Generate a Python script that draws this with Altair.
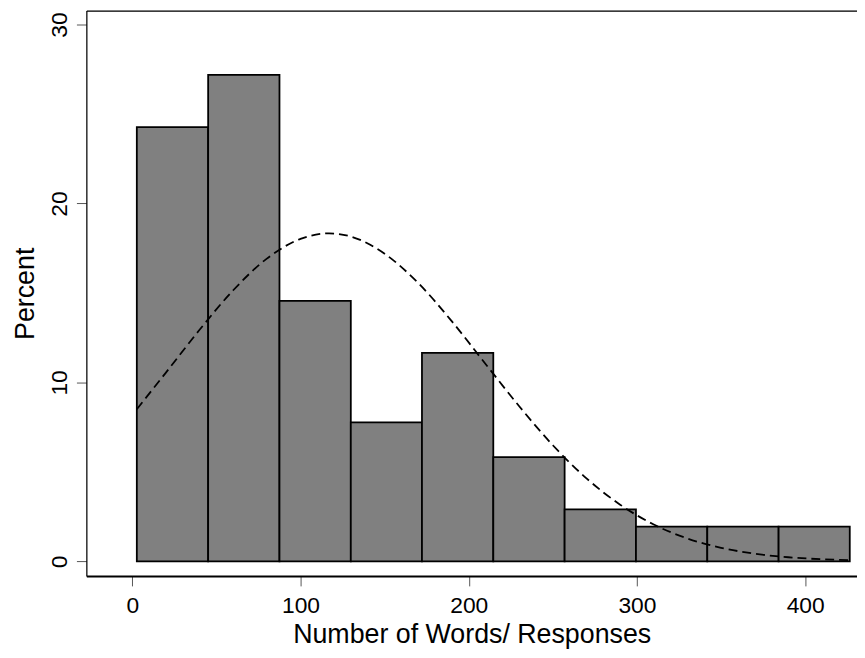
import altair as alt
import pandas as pd

# Histogram bins (number of words / responses) and percent per bin
bin_starts = [2.7, 45.1, 87.5, 129.9, 172.2, 214.6, 257.0, 299.4, 341.8, 384.2]
bin_ends = [45.1, 87.5, 129.9, 172.2, 214.6, 257.0, 299.4, 341.8, 384.2, 426.5]
percents = [24.27, 27.18, 14.56, 7.77, 11.65, 5.83, 2.91, 1.94, 1.94, 1.94]

# Dashed normal-density overlay
curve_x = [2.7, 20, 40, 60, 80, 100, 117, 130, 150, 170, 190, 210, 230, 250,
           270, 290, 310, 330, 350, 370, 390, 410, 426.5]
curve_y = [8.5, 10.55, 12.94, 15.15, 16.92, 18.02, 18.33, 18.15, 17.19, 15.55,
           13.41, 11.03, 8.67, 6.49, 4.64, 3.17, 2.06, 1.28, 0.76, 0.43, 0.23,
           0.12, 0.07]

x_ticks = [0, 100, 200, 300, 400]
y_ticks = [0, 10, 20, 30]

bars_df = pd.DataFrame({"start": bin_starts, "end": bin_ends, "pct": percents})
curve_df = pd.DataFrame({"x": curve_x, "y": curve_y})

FONT = "Liberation Sans"
x_scale = alt.Scale(domain=[-27.3, 430.8], nice=False, zero=False)
y_scale = alt.Scale(domain=[-0.815, 30.776], nice=False, zero=False)


def y_axis():
    return alt.Axis(values=y_ticks, title="Percent", orient="left", grid=False,
                    domainColor="black", domainWidth=1.2,
                    tickColor="#555", tickSize=10, tickWidth=1,
                    labelFontSize=23, labelAngle=270,
                    labelAlign="center", labelBaseline="bottom",
                    labelPadding=5, labelColor="black", labelFont=FONT,
                    titleFont=FONT, titleFontSize=27,
                    titleFontWeight="normal", titleColor="black",
                    titlePadding=9)


bars = alt.Chart(bars_df).mark_bar(
    fill="#808080", stroke="black", strokeWidth=1.8
).encode(
    x=alt.X("start:Q", scale=x_scale,
            axis=alt.Axis(values=x_ticks, title="Number of Words/ Responses",
                          orient="bottom", grid=False, domainColor="black",
                          domainWidth=2, tickColor="#555", tickSize=10,
                          tickWidth=1, labelFontSize=23, labelPadding=9,
                          labelColor="black", labelFont=FONT,
                          titleFont=FONT, titleFontSize=27,
                          titleFontWeight="normal", titleColor="black",
                          titlePadding=4)),
    x2="end:Q",
    y=alt.Y("pct:Q", scale=y_scale, axis=y_axis()),
    y2=alt.datum(0),
)

curve = alt.Chart(curve_df).mark_line(
    color="black", strokeWidth=1.8, strokeDash=[9, 5], interpolate="monotone"
).encode(
    x=alt.X("x:Q", scale=x_scale,
            axis=alt.Axis(orient="top", labels=False, ticks=False, title=None,
                          grid=False, domainColor="black", domainWidth=1.5)),
    y=alt.Y("y:Q", scale=y_scale, axis=y_axis()),
)

chart = alt.layer(bars, curve).properties(
    width=777,
    height=570,
    autosize=alt.AutoSizeParams(type="none"),
    padding={"left": 79, "top": 0, "right": 0, "bottom": 72},
).configure_view(stroke=None).configure(background="white")

chart.save("out.html", embed_options={"renderer": "svg", "actions": False})
